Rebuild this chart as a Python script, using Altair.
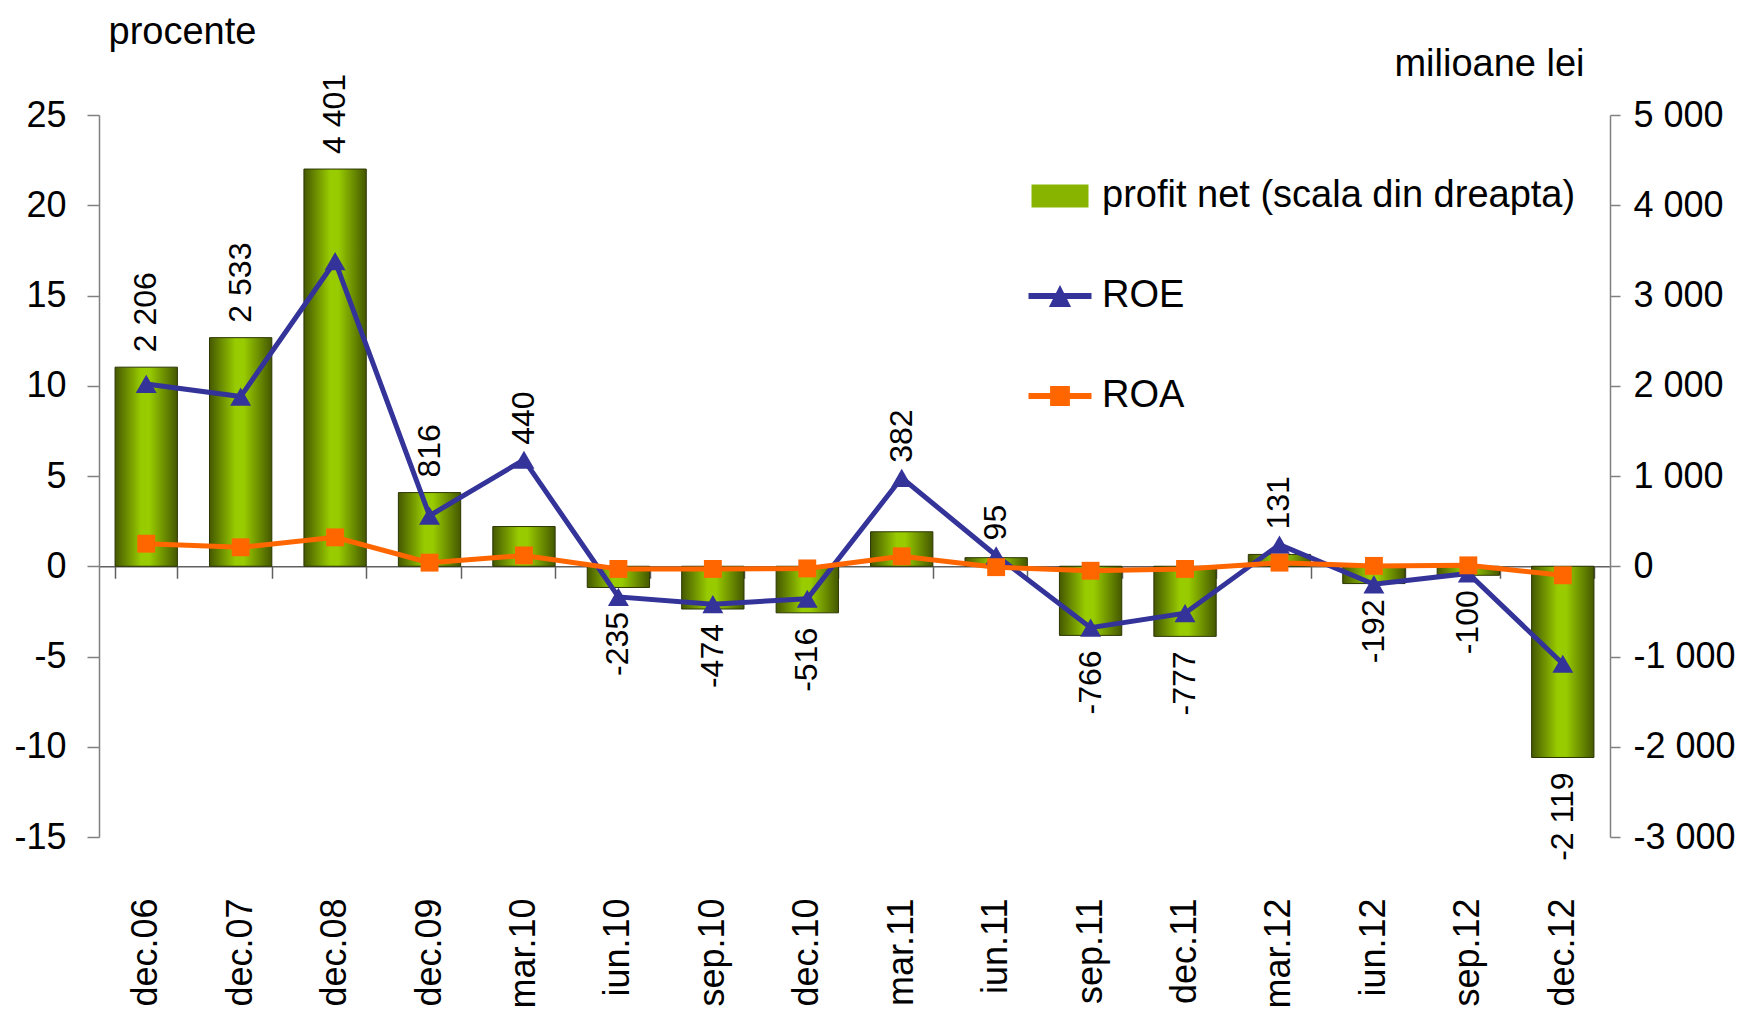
import altair as alt
import pandas as pd

# ---------------- data ----------------
categories = ["dec.06", "dec.07", "dec.08", "dec.09", "mar.10", "iun.10", "sep.10", "dec.10",
              "mar.11", "iun.11", "sep.11", "dec.11", "mar.12", "iun.12", "sep.12", "dec.12"]
profit_net = [2206, 2533, 4401, 816, 440, -235, -474, -516, 382, 95, -766, -777, 131, -192, -100, -2119]
roe = [10.1, 9.4, 16.9, 2.8, 5.9, -1.7, -2.1, -1.8, 4.9, 0.6, -3.4, -2.6, 1.2, -1.0, -0.4, -5.4]
roa = [1.25, 1.05, 1.6, 0.2, 0.6, -0.15, -0.15, -0.12, 0.55, -0.05, -0.25, -0.15, 0.2, 0.02, 0.05, -0.5]
series_names = ["profit net (scala din dreapta)", "ROE", "ROA"]
left_ticks = [-15, -10, -5, 0, 5, 10, 15, 20, 25]
right_ticks = [-3000, -2000, -1000, 0, 1000, 2000, 3000, 4000, 5000]
left_domain = [-15, 25]
right_domain = [-3000, 5000]

# ---------------- derived table ----------------
ratio = (right_domain[1] - right_domain[0]) / (left_domain[1] - left_domain[0])
anchor = [max(p, r * ratio) if p >= 0 else min(p, r * ratio) for p, r in zip(profit_net, roe)]
labels = [("-" if p < 0 else "") + f"{abs(p):,}".replace(",", " ") for p in profit_net]
df = pd.DataFrame({
    "cat": categories, "profit": profit_net, "roe": roe, "roa": roa,
    "anchor": anchor, "label": labels,
    "pos": [p >= 0 for p in profit_net],
})
legend_df = pd.DataFrame({"series": series_names})

FONT = "Liberation Sans, Arial, Helvetica, sans-serif"
W, H = 1511, 722
zero_offset = -(H - H * left_domain[1] / (left_domain[1] - left_domain[0]))

x_scale = alt.Scale(paddingInner=0.34, paddingOuter=0.17)

x_bottom = alt.X("cat:N", sort=categories, title=None, scale=x_scale,
                 axis=alt.Axis(orient="bottom", labelAngle=270, labelFontSize=36, labelFont=FONT,
                               labelColor="black", labelPadding=61, ticks=False, tickSize=0,
                               domain=False, grid=False, labelBaseline="middle", labelAlign="right"))
x_zero = alt.X("cat:N", sort=categories, title=None, scale=x_scale,
               axis=alt.Axis(orient="bottom", offset=zero_offset, labels=False, ticks=True, tickSize=12,
                             tickBand="extent", domain=True, domainColor="#606060", domainWidth=1.5,
                             tickColor="#606060", tickWidth=1.5, grid=False))

right_axis = alt.Axis(orient="right", values=right_ticks, title="milioane lei",
                      labelExpr="(datum.value < 0 ? '-' : '') + replace(format(abs(datum.value), ','), ',', ' ')",
                      labelFontSize=36, labelFont=FONT, labelColor="black", labelPadding=13,
                      tickSize=10, tickColor="#808080", domainColor="#808080", domainWidth=1.5,
                      tickWidth=1.5, grid=False,
                      titleAngle=0, titleAlign="right", titleBaseline="alphabetic", titleX=-26, titleY=-40,
                      titleFontSize=38, titleFont=FONT, titleFontWeight="normal", titleColor="black")
left_axis = alt.Axis(orient="left", values=left_ticks, title="procente",
                     labelExpr="datum.value < 0 ? '-' + abs(datum.value) : '' + datum.value",
                     labelFontSize=36, labelFont=FONT, labelColor="black", labelPadding=21,
                     tickSize=12, tickColor="#808080", domainColor="#808080", domainWidth=1.5,
                     tickWidth=1.5, grid=False,
                     titleAngle=0, titleAlign="left", titleBaseline="alphabetic", titleX=9, titleY=-72,
                     titleFontSize=38, titleFont=FONT, titleFontWeight="normal", titleColor="black")

right_scale = alt.Scale(domain=right_domain, nice=False, zero=False)
left_scale = alt.Scale(domain=left_domain, nice=False, zero=False)

gradient = alt.Gradient(
    gradient="linear",
    stops=[alt.GradientStop(color="#455800", offset=0),
           alt.GradientStop(color="#99cc00", offset=0.42),
           alt.GradientStop(color="#99cc00", offset=0.55),
           alt.GradientStop(color="#455800", offset=1)],
    x1=0, x2=1, y1=0, y2=0)

base = alt.Chart(df)

bars = base.mark_bar(fill=gradient, stroke="#2b3600", strokeWidth=1).encode(
    x=x_bottom,
    y=alt.Y("profit:Q", scale=right_scale, axis=right_axis),
)
lab_pos = base.transform_filter("datum.pos").mark_text(
    angle=270, align="left", baseline="middle", yOffset=-15, fontSize=32, font=FONT, color="black"
).encode(x=x_bottom, y=alt.Y("anchor:Q", scale=right_scale, axis=right_axis), text="label:N")
lab_neg = base.transform_filter("!datum.pos").mark_text(
    angle=270, align="right", baseline="middle", yOffset=15, fontSize=32, font=FONT, color="black"
).encode(x=x_bottom, y=alt.Y("anchor:Q", scale=right_scale, axis=right_axis), text="label:N")

bar_group = alt.layer(bars, lab_pos, lab_neg)

roe_line = base.mark_line(color="#333399", strokeWidth=5).encode(
    x=x_zero, y=alt.Y("roe:Q", scale=left_scale, axis=left_axis))
roe_pts = base.mark_point(shape="triangle-up", filled=True, size=440, color="#333399", opacity=1).encode(
    x=x_zero, y=alt.Y("roe:Q", scale=left_scale, axis=left_axis))
roa_line = base.mark_line(color="#ff6600", strokeWidth=5).encode(
    x=x_zero, y=alt.Y("roa:Q", scale=left_scale, axis=left_axis))
roa_pts = base.mark_point(shape="square", filled=True, size=320, color="#ff6600", opacity=1).encode(
    x=x_zero, y=alt.Y("roa:Q", scale=left_scale, axis=left_axis))

legend_cfg = alt.Legend(orient="none", legendX=931, legendY=51, title=None, symbolSize=3600,
                        labelFontSize=38, labelFont=FONT, labelColor="black", labelOffset=12,
                        rowPadding=51, labelLimit=1000, symbolStrokeWidth=0, symbolOpacity=1)
path_rect = "M-0.95,-0.38H0.95V0.38H-0.95Z"
path_roe = "M-1.05,-0.1H1.05V0.1H-1.05Z M-0.37,0.37L0,-0.37L0.37,0.37Z"
path_roa = "M-1.05,-0.1H1.05V0.1H-1.05Z M-0.33,-0.33H0.33V0.33H-0.33Z"

legend_layer = alt.Chart(legend_df).transform_filter("false").mark_point(filled=True, opacity=1).encode(
    color=alt.Color("series:N", scale=alt.Scale(domain=series_names, range=["#88b400", "#333399", "#ff6600"]),
                    legend=legend_cfg),
    shape=alt.Shape("series:N", scale=alt.Scale(domain=series_names, range=[path_rect, path_roe, path_roa]),
                    legend=legend_cfg),
)

line_group = alt.layer(roe_line, roa_line, roe_pts, roa_pts, legend_layer)

chart = alt.layer(bar_group, line_group).resolve_scale(y="independent").resolve_axis(x="independent").properties(
    width=W, height=H,
    autosize=alt.AutoSizeParams(type="none"),
    padding={"left": 91, "top": 107, "right": 134, "bottom": 175},
    background="white",
).configure_view(stroke=None)

chart.save("out.html", embed_options={"renderer": "svg", "actions": False})
